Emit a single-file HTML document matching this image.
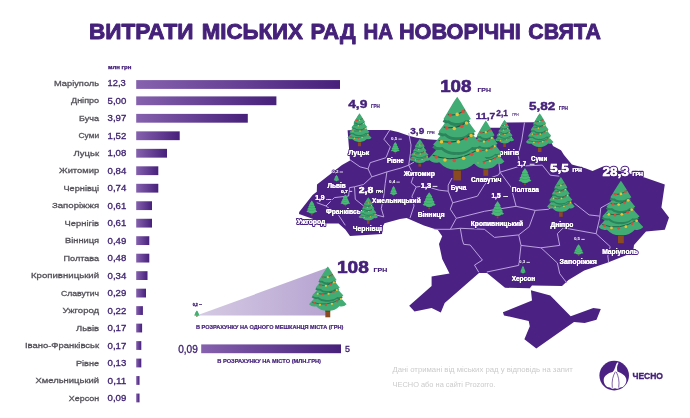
<!DOCTYPE html>
<html lang="uk"><head><meta charset="utf-8"><title>Витрати міських рад на новорічні свята</title>
<style>
html,body{margin:0;padding:0;background:#fff;}
body{width:690px;height:418px;overflow:hidden;font-family:"Liberation Sans",sans-serif;}
svg{display:block;will-change:transform;font-family:"Liberation Sans",sans-serif;}
.lab{font-size:7.9px;fill:#55525a;stroke:#55525a;stroke-width:0.3px;text-anchor:end;}
.val{font-size:8.7px;fill:#3f2270;stroke:#3f2270;stroke-width:0.3px;}
.city{font-size:6.6px;font-weight:bold;fill:#fff;stroke:#4b2283;stroke-width:2.2px;stroke-linejoin:round;paint-order:stroke;text-anchor:middle;}
.num{font-weight:bold;fill:#45217a;stroke:#45217a;stroke-width:0.35px;}
.numw{font-weight:bold;fill:#fff;stroke:#4b2283;stroke-width:2.4px;stroke-linejoin:round;paint-order:stroke;}
.city2{font-size:6.6px;font-weight:bold;fill:#fff;stroke:#fff;stroke-width:0.08px;text-anchor:middle;}
.cap{font-size:5.3px;font-weight:bold;fill:#45217a;stroke:#45217a;stroke-width:0.2px;}
</style></head><body>
<svg width="690" height="418" viewBox="0 0 690 418">
<defs>
<linearGradient id="g2" x1="0" y1="0" x2="1" y2="0"><stop offset="0" stop-color="#d5cbe4"/><stop offset="1" stop-color="#b7a4d1"/></linearGradient>
<linearGradient id="g" x1="0" y1="0" x2="1" y2="0"><stop offset="0" stop-color="#8561ae"/><stop offset="1" stop-color="#47207b"/></linearGradient>

<symbol id="tp" viewBox="0 0 100 146" preserveAspectRatio="none" overflow="visible"><rect x="43.5" y="116" width="13" height="30" fill="#8a4a22"/><rect x="43.5" y="116" width="13" height="13" fill="#5a3216"/><path d="M50,52 C32,68.8 12,95.68 0,108 Q8,117.5 19,114.08 Q32,128.5 50,127 Q68,128.5 81,114.08 Q92,117.5 100,108 C88,95.68 68,68.8 50,52Z" fill="#49b976"/><path d="M50,34 C35.06,48.7 18.46,72.22 8.5,83 Q15.14,89.5 24.27,87.16 Q35.06,97.5 50,96 Q64.94,97.5 75.73,87.16 Q84.86,89.5 91.5,83 C81.54,72.22 64.94,48.7 50,34Z" fill="#38a066" transform="translate(-1.5,5)"/><path d="M50,34 C35.06,48.7 18.46,72.22 8.5,83 Q15.14,89.5 24.27,87.16 Q35.06,97.5 50,96 Q64.94,97.5 75.73,87.16 Q84.86,89.5 91.5,83 C81.54,72.22 64.94,48.7 50,34Z" fill="#49b976"/><path d="M50,17 C38.48,29.9 25.68,50.54 18,60 Q23.12,65 30.16,63.2 Q38.48,71.5 50,70 Q61.52,71.5 69.84,63.2 Q76.88,65 82,60 C74.32,50.54 61.52,29.9 50,17Z" fill="#38a066" transform="translate(-1.5,5)"/><path d="M50,17 C38.48,29.9 25.68,50.54 18,60 Q23.12,65 30.16,63.2 Q38.48,71.5 50,70 Q61.52,71.5 69.84,63.2 Q76.88,65 82,60 C74.32,50.54 61.52,29.9 50,17Z" fill="#49b976"/><path d="M50,-1 C41.54,10.7 32.14,29.42 26.5,38 Q30.26,41.5 35.43,40.24 Q41.54,46.5 50,45 Q58.46,46.5 64.57,40.24 Q69.74,41.5 73.5,38 C67.86,29.42 58.46,10.7 50,-1Z" fill="#38a066" transform="translate(-1.5,5)"/><path d="M50,-1 C41.54,10.7 32.14,29.42 26.5,38 Q30.26,41.5 35.43,40.24 Q41.54,46.5 50,45 Q58.46,46.5 64.57,40.24 Q69.74,41.5 73.5,38 C67.86,29.42 58.46,10.7 50,-1Z" fill="#49b976"/></symbol>
<symbol id="td" viewBox="0 0 100 146" preserveAspectRatio="none" overflow="visible"><rect x="43.5" y="116" width="13" height="30" fill="#8a4a22"/><rect x="43.5" y="116" width="13" height="13" fill="#5a3216"/><path d="M50,52 C32,68.8 12,95.68 0,108 Q8,117.5 19,114.08 Q32,128.5 50,127 Q68,128.5 81,114.08 Q92,117.5 100,108 C88,95.68 68,68.8 50,52Z" fill="#41ad75"/><path d="M50,34 C35.06,48.7 18.46,72.22 8.5,83 Q15.14,89.5 24.27,87.16 Q35.06,97.5 50,96 Q64.94,97.5 75.73,87.16 Q84.86,89.5 91.5,83 C81.54,72.22 64.94,48.7 50,34Z" fill="#2b845b" transform="translate(-1.5,5)"/><path d="M50,34 C35.06,48.7 18.46,72.22 8.5,83 Q15.14,89.5 24.27,87.16 Q35.06,97.5 50,96 Q64.94,97.5 75.73,87.16 Q84.86,89.5 91.5,83 C81.54,72.22 64.94,48.7 50,34Z" fill="#41ad75"/><path d="M50,17 C38.48,29.9 25.68,50.54 18,60 Q23.12,65 30.16,63.2 Q38.48,71.5 50,70 Q61.52,71.5 69.84,63.2 Q76.88,65 82,60 C74.32,50.54 61.52,29.9 50,17Z" fill="#2b845b" transform="translate(-1.5,5)"/><path d="M50,17 C38.48,29.9 25.68,50.54 18,60 Q23.12,65 30.16,63.2 Q38.48,71.5 50,70 Q61.52,71.5 69.84,63.2 Q76.88,65 82,60 C74.32,50.54 61.52,29.9 50,17Z" fill="#41ad75"/><path d="M50,-1 C41.54,10.7 32.14,29.42 26.5,38 Q30.26,41.5 35.43,40.24 Q41.54,46.5 50,45 Q58.46,46.5 64.57,40.24 Q69.74,41.5 73.5,38 C67.86,29.42 58.46,10.7 50,-1Z" fill="#2b845b" transform="translate(-1.5,5)"/><path d="M50,-1 C41.54,10.7 32.14,29.42 26.5,38 Q30.26,41.5 35.43,40.24 Q41.54,46.5 50,45 Q58.46,46.5 64.57,40.24 Q69.74,41.5 73.5,38 C67.86,29.42 58.46,10.7 50,-1Z" fill="#41ad75"/><path d="M34,30 Q48,34 63,22" fill="none" stroke="#1a5840" stroke-width="1.9"/><circle cx="38" cy="31" r="3.1" fill="#df4b3c"/><circle cx="50" cy="30" r="3.1" fill="#efc034"/><circle cx="60" cy="25" r="3.1" fill="#df4b3c"/><path d="M27,52 Q48,58 68,42" fill="none" stroke="#1a5840" stroke-width="1.9"/><circle cx="32" cy="54" r="3.1" fill="#df4b3c"/><circle cx="45" cy="55" r="3.1" fill="#efc034"/><circle cx="58" cy="51" r="3.1" fill="#df4b3c"/><circle cx="66" cy="45" r="3.1" fill="#efc034"/><path d="M18,76 Q46,85 76,65" fill="none" stroke="#1a5840" stroke-width="1.9"/><circle cx="23" cy="78" r="3.1" fill="#efc034"/><circle cx="37" cy="80" r="3.1" fill="#df4b3c"/><circle cx="52" cy="78" r="3.1" fill="#efc034"/><circle cx="65" cy="73" r="3.1" fill="#df4b3c"/><circle cx="74" cy="67" r="3.1" fill="#efc034"/><path d="M8,102 Q46,118 87,91" fill="none" stroke="#1a5840" stroke-width="1.9"/><circle cx="14" cy="105" r="3.1" fill="#df4b3c"/><circle cx="29" cy="110" r="3.1" fill="#efc034"/><circle cx="45" cy="111" r="3.1" fill="#df4b3c"/><circle cx="61" cy="107" r="3.1" fill="#efc034"/><circle cx="75" cy="100" r="3.1" fill="#df4b3c"/><circle cx="85" cy="93" r="3.1" fill="#efc034"/></symbol>
</defs>
<text x="89.0" y="38.7" font-size="22" font-weight="bold" fill="#45217a" stroke="#45217a" stroke-width="0.9" stroke-linejoin="round" textLength="104.5" lengthAdjust="spacingAndGlyphs">ВИТРАТИ</text>
<text x="201.7" y="38.7" font-size="22" font-weight="bold" fill="#45217a" stroke="#45217a" stroke-width="0.9" stroke-linejoin="round" textLength="101.3" lengthAdjust="spacingAndGlyphs">МІСЬКИХ</text>
<text x="310.6" y="38.7" font-size="22" font-weight="bold" fill="#45217a" stroke="#45217a" stroke-width="0.9" stroke-linejoin="round" textLength="45.0" lengthAdjust="spacingAndGlyphs">РАД</text>
<text x="363.4" y="38.7" font-size="22" font-weight="bold" fill="#45217a" stroke="#45217a" stroke-width="0.9" stroke-linejoin="round" textLength="29.5" lengthAdjust="spacingAndGlyphs">НА</text>
<text x="398.9" y="38.7" font-size="22" font-weight="bold" fill="#45217a" stroke="#45217a" stroke-width="0.9" stroke-linejoin="round" textLength="122.0" lengthAdjust="spacingAndGlyphs">НОВОРІЧНІ</text>
<text x="528.3" y="38.7" font-size="22" font-weight="bold" fill="#45217a" stroke="#45217a" stroke-width="0.9" stroke-linejoin="round" textLength="72.6" lengthAdjust="spacingAndGlyphs">СВЯТА</text>
<text x="108" y="69.3" font-size="4.6" font-weight="bold" fill="#45217a" stroke="#45217a" stroke-width="0.25" textLength="23.4" lengthAdjust="spacingAndGlyphs">млн грн</text>
<text class="lab" x="99.1" y="85.95" textLength="45.1" lengthAdjust="spacingAndGlyphs">Маріуполь</text>
<text class="val" x="107.6" y="86.45" textLength="18.2" lengthAdjust="spacingAndGlyphs">12,3</text>
<rect x="136.2" y="80.10" width="203.8" height="8.8" fill="url(#g)"/>
<text class="lab" x="99.1" y="103.44" textLength="28.1" lengthAdjust="spacingAndGlyphs">Дніпро</text>
<text class="val" x="107.6" y="103.93" textLength="18.7" lengthAdjust="spacingAndGlyphs">5,00</text>
<rect x="136.2" y="96.40" width="140.2" height="8.8" fill="url(#g)"/>
<text class="lab" x="99.1" y="120.92" textLength="20.1" lengthAdjust="spacingAndGlyphs">Буча</text>
<text class="val" x="107.6" y="121.41" textLength="18.7" lengthAdjust="spacingAndGlyphs">3,97</text>
<rect x="136.2" y="113.88" width="111.6" height="8.8" fill="url(#g)"/>
<text class="lab" x="99.1" y="138.41" textLength="20.6" lengthAdjust="spacingAndGlyphs">Суми</text>
<text class="val" x="107.6" y="138.89" textLength="18.7" lengthAdjust="spacingAndGlyphs">1,52</text>
<rect x="136.2" y="131.36" width="43.5" height="8.8" fill="url(#g)"/>
<text class="lab" x="99.1" y="155.89" textLength="25.6" lengthAdjust="spacingAndGlyphs">Луцьк</text>
<text class="val" x="107.6" y="156.37" textLength="18.7" lengthAdjust="spacingAndGlyphs">1,08</text>
<rect x="136.2" y="148.84" width="30.8" height="8.8" fill="url(#g)"/>
<text class="lab" x="99.1" y="173.38" textLength="40.1" lengthAdjust="spacingAndGlyphs">Житомир</text>
<text class="val" x="107.6" y="173.85" textLength="18.7" lengthAdjust="spacingAndGlyphs">0,84</text>
<rect x="136.2" y="166.32" width="22.1" height="8.8" fill="url(#g)"/>
<text class="lab" x="99.1" y="190.87" textLength="35.6" lengthAdjust="spacingAndGlyphs">Чернівці</text>
<text class="val" x="107.6" y="191.33" textLength="18.7" lengthAdjust="spacingAndGlyphs">0,74</text>
<rect x="136.2" y="183.80" width="22.1" height="8.8" fill="url(#g)"/>
<text class="lab" x="99.1" y="208.35" textLength="47.1" lengthAdjust="spacingAndGlyphs">Запоріжжя</text>
<text class="val" x="107.6" y="208.81" textLength="18.7" lengthAdjust="spacingAndGlyphs">0,61</text>
<rect x="136.2" y="201.28" width="15.8" height="8.8" fill="url(#g)"/>
<text class="lab" x="99.1" y="225.84" textLength="34.5" lengthAdjust="spacingAndGlyphs">Чернігів</text>
<text class="val" x="107.6" y="226.29" textLength="18.7" lengthAdjust="spacingAndGlyphs">0,61</text>
<rect x="136.2" y="218.76" width="15.8" height="8.8" fill="url(#g)"/>
<text class="lab" x="99.1" y="243.32" textLength="34.1" lengthAdjust="spacingAndGlyphs">Вінниця</text>
<text class="val" x="107.6" y="243.77" textLength="18.7" lengthAdjust="spacingAndGlyphs">0,49</text>
<rect x="136.2" y="236.24" width="13.1" height="8.8" fill="url(#g)"/>
<text class="lab" x="99.1" y="260.81" textLength="35.6" lengthAdjust="spacingAndGlyphs">Полтава</text>
<text class="val" x="107.6" y="261.25" textLength="18.7" lengthAdjust="spacingAndGlyphs">0,48</text>
<rect x="136.2" y="253.72" width="13.1" height="8.8" fill="url(#g)"/>
<text class="lab" x="99.1" y="278.30" textLength="68.1" lengthAdjust="spacingAndGlyphs">Кропивницький</text>
<text class="val" x="107.6" y="278.73" textLength="18.7" lengthAdjust="spacingAndGlyphs">0,34</text>
<rect x="136.2" y="271.20" width="11.3" height="8.8" fill="url(#g)"/>
<text class="lab" x="99.1" y="295.78" textLength="38.1" lengthAdjust="spacingAndGlyphs">Славутич</text>
<text class="val" x="107.6" y="296.21" textLength="18.7" lengthAdjust="spacingAndGlyphs">0,29</text>
<rect x="136.2" y="288.68" width="9.8" height="8.8" fill="url(#g)"/>
<text class="lab" x="99.1" y="313.27" textLength="36.6" lengthAdjust="spacingAndGlyphs">Ужгород</text>
<text class="val" x="107.6" y="313.69" textLength="18.7" lengthAdjust="spacingAndGlyphs">0,22</text>
<rect x="136.2" y="306.16" width="6.7" height="8.8" fill="url(#g)"/>
<text class="lab" x="99.1" y="330.75" textLength="23.1" lengthAdjust="spacingAndGlyphs">Львів</text>
<text class="val" x="107.6" y="331.17" textLength="18.7" lengthAdjust="spacingAndGlyphs">0,17</text>
<rect x="136.2" y="323.64" width="5.9" height="8.8" fill="url(#g)"/>
<text class="lab" x="99.1" y="348.24" textLength="74.1" lengthAdjust="spacingAndGlyphs">Івано-Франківськ</text>
<text class="val" x="107.6" y="348.65" textLength="18.7" lengthAdjust="spacingAndGlyphs">0,17</text>
<rect x="136.2" y="341.12" width="5.1" height="8.8" fill="url(#g)"/>
<text class="lab" x="99.1" y="365.73" textLength="23.1" lengthAdjust="spacingAndGlyphs">Рівне</text>
<text class="val" x="107.6" y="366.13" textLength="18.7" lengthAdjust="spacingAndGlyphs">0,13</text>
<rect x="136.2" y="358.60" width="5.1" height="8.8" fill="url(#g)"/>
<text class="lab" x="99.1" y="383.21" textLength="63.7" lengthAdjust="spacingAndGlyphs">Хмельницький</text>
<text class="val" x="107.6" y="383.61" textLength="18.7" lengthAdjust="spacingAndGlyphs">0,11</text>
<rect x="136.2" y="376.08" width="3.3" height="8.8" fill="url(#g)"/>
<text class="lab" x="99.1" y="400.70" textLength="30.3" lengthAdjust="spacingAndGlyphs">Херсон</text>
<text class="val" x="107.6" y="401.09" textLength="18.7" lengthAdjust="spacingAndGlyphs">0,09</text>
<rect x="136.2" y="393.56" width="3.3" height="8.8" fill="url(#g)"/>
<polygon points="347.6,130.2 367.5,129.9 389.3,129.9 398.0,132.0 409.6,136.1 416.8,137.8 427.0,139.3 438.0,140.0 460.0,141.0 478.0,137.0 490.0,127.8 500.0,127.8 506.0,122.5 535.0,122.3 545.0,128.0 553.0,146.0 561.0,150.2 564.0,155.0 571.9,164.6 585.3,168.3 592.6,171.0 603.0,166.5 644.7,177.4 664.8,184.5 661.4,207.5 669.0,217.6 664.8,229.7 646.0,231.4 634.0,244.9 633.0,252.5 607.9,262.4 584.2,270.6 568.5,280.0 562.0,286.0 532.0,285.4 529.8,288.2 505.0,287.8 487.0,273.0 479.0,273.0 444.7,303.0 440.8,312.4 431.6,308.0 414.5,311.6 409.2,305.8 431.6,286.0 431.6,276.6 449.5,273.5 442.2,259.0 439.0,243.9 442.2,236.3 437.9,229.9 423.9,225.6 406.6,218.0 400.0,219.0 384.5,223.2 383.0,226.0 382.0,234.0 350.0,236.0 345.3,229.5 338.6,223.6 326.0,223.6 299.0,214.0 299.2,211.9 312.6,195.1 316.8,191.8 317.0,184.5 342.0,165.0 350.0,160.5 348.5,142.0" fill="#4b2283"/>
<polygon points="530.9,290.3 550.3,295.5 570.7,316.2 593.3,308.0 600.8,309.0 596.5,319.8 584.7,323.0 574.0,322.0 536.3,348.4 524.4,339.2 529.8,326.3 528.7,320.9 504.0,315.5 502.9,312.3 532.0,300.4" fill="#4b2283"/>
<polyline points="389.7,130.0 383.9,139.2 390.3,146.8 386.0,157.7 370.2,162.7 368.1,168.9" fill="none" stroke="#c2a9e4" stroke-width="0.95" stroke-linejoin="round"/>
<polyline points="350.0,159.8 360.1,166.9 368.1,168.9 371.8,176.9 363.5,184.5 354.5,186.8 349.5,187.6 348.6,196.0 334.4,197.6 326.0,206.0 316.8,202.7" fill="none" stroke="#c2a9e4" stroke-width="0.95" stroke-linejoin="round"/>
<polyline points="326.0,206.0 338.6,215.2 345.3,225.3" fill="none" stroke="#c2a9e4" stroke-width="0.95" stroke-linejoin="round"/>
<polyline points="354.5,186.8 355.3,199.3 363.7,206.0 377.1,215.2 383.8,216.9" fill="none" stroke="#c2a9e4" stroke-width="0.95" stroke-linejoin="round"/>
<polyline points="371.8,176.9 386.9,171.9 401.0,168.0 408.7,165.2 414.0,162.0" fill="none" stroke="#c2a9e4" stroke-width="0.95" stroke-linejoin="round"/>
<polyline points="408.7,133.0 411.0,145.0 410.4,153.5 408.7,165.2 413.7,175.3 411.2,182.8 416.2,187.0 412.0,196.2 414.0,206.0 410.0,218.0" fill="none" stroke="#c2a9e4" stroke-width="0.95" stroke-linejoin="round"/>
<polyline points="386.9,171.9 385.2,183.6 383.9,195.0 381.3,208.5 383.8,216.9" fill="none" stroke="#c2a9e4" stroke-width="0.95" stroke-linejoin="round"/>
<polyline points="416.2,187.0 424.0,186.0 439.2,190.2 448.2,191.2 448.2,185.1 452.0,178.0" fill="none" stroke="#c2a9e4" stroke-width="0.95" stroke-linejoin="round"/>
<polyline points="448.2,191.2 452.7,202.8 450.3,209.2 456.3,218.3 450.3,229.3" fill="none" stroke="#c2a9e4" stroke-width="0.95" stroke-linejoin="round"/>
<polyline points="452.7,202.8 477.4,196.2 484.4,185.1 490.0,178.0 498.5,175.0 500.0,172.2" fill="none" stroke="#c2a9e4" stroke-width="0.95" stroke-linejoin="round"/>
<polyline points="456.3,218.3 484.4,211.3 516.1,206.3" fill="none" stroke="#c2a9e4" stroke-width="0.95" stroke-linejoin="round"/>
<polyline points="499.0,164.0 500.0,172.2 511.1,187.2 516.1,206.3 535.2,210.4 548.3,209.3 556.0,204.0" fill="none" stroke="#c2a9e4" stroke-width="0.95" stroke-linejoin="round"/>
<polyline points="524.5,122.5 521.8,140.0 518.1,155.0 520.2,166.1" fill="none" stroke="#c2a9e4" stroke-width="0.95" stroke-linejoin="round"/>
<polyline points="500.0,172.2 520.2,166.1 542.3,165.1 550.3,175.2 559.3,176.2" fill="none" stroke="#c2a9e4" stroke-width="0.95" stroke-linejoin="round"/>
<polyline points="434.2,229.3 450.3,229.3 460.3,228.3 484.4,229.3 494.5,237.4 518.7,234.9" fill="none" stroke="#c2a9e4" stroke-width="0.95" stroke-linejoin="round"/>
<polyline points="460.3,228.3 462.3,240.0 463.7,244.3 470.2,245.0 482.4,260.1 474.5,265.1 478.8,272.3" fill="none" stroke="#c2a9e4" stroke-width="0.95" stroke-linejoin="round"/>
<polyline points="535.2,210.4 529.2,226.7 518.7,234.9 521.0,245.4 541.0,247.8 559.7,245.4 557.4,233.7 563.3,227.8 596.1,233.7 599.6,218.5 600.8,207.9 620.0,197.3" fill="none" stroke="#c2a9e4" stroke-width="0.95" stroke-linejoin="round"/>
<polyline points="574.4,203.3 589.1,214.9 599.6,216.1" fill="none" stroke="#c2a9e4" stroke-width="0.95" stroke-linejoin="round"/>
<polyline points="596.1,233.7 610.2,246.6 607.8,256.0 608.6,262.0" fill="none" stroke="#c2a9e4" stroke-width="0.95" stroke-linejoin="round"/>
<polyline points="541.0,247.8 557.4,263.0 559.7,273.6 566.8,283.0" fill="none" stroke="#c2a9e4" stroke-width="0.95" stroke-linejoin="round"/>
<polyline points="521.0,245.4 518.7,265.4 486.8,272.0" fill="none" stroke="#c2a9e4" stroke-width="0.95" stroke-linejoin="round"/>
<text class="city" x="504.6" y="154.6" textLength="29.2" lengthAdjust="spacingAndGlyphs">Чернігів</text>
<text class="city2" x="504.6" y="154.6" textLength="29.2" lengthAdjust="spacingAndGlyphs">Чернігів</text>
<text class="city" x="358.9" y="155.3" textLength="20.9" lengthAdjust="spacingAndGlyphs">Луцьк</text>
<text class="city2" x="358.9" y="155.3" textLength="20.9" lengthAdjust="spacingAndGlyphs">Луцьк</text>
<text class="city" x="395.3" y="163.3" textLength="16.8" lengthAdjust="spacingAndGlyphs">Рівне</text>
<text class="city2" x="395.3" y="163.3" textLength="16.8" lengthAdjust="spacingAndGlyphs">Рівне</text>
<text class="city" x="419.4" y="175.6" textLength="31.2" lengthAdjust="spacingAndGlyphs">Житомир</text>
<text class="city2" x="419.4" y="175.6" textLength="31.2" lengthAdjust="spacingAndGlyphs">Житомир</text>
<text class="city" x="458.5" y="190.2" textLength="15.6" lengthAdjust="spacingAndGlyphs">Буча</text>
<text class="city2" x="458.5" y="190.2" textLength="15.6" lengthAdjust="spacingAndGlyphs">Буча</text>
<text class="city" x="486.2" y="182.0" textLength="30.5" lengthAdjust="spacingAndGlyphs">Славутич</text>
<text class="city2" x="486.2" y="182.0" textLength="30.5" lengthAdjust="spacingAndGlyphs">Славутич</text>
<text class="city" x="539.1" y="160.6" textLength="16.4" lengthAdjust="spacingAndGlyphs">Суми</text>
<text class="city2" x="539.1" y="160.6" textLength="16.4" lengthAdjust="spacingAndGlyphs">Суми</text>
<text class="city" x="525.4" y="191.9" textLength="27.2" lengthAdjust="spacingAndGlyphs">Полтава</text>
<text class="city2" x="525.4" y="191.9" textLength="27.2" lengthAdjust="spacingAndGlyphs">Полтава</text>
<text class="city" x="336.6" y="188.0" textLength="18.2" lengthAdjust="spacingAndGlyphs">Львів</text>
<text class="city2" x="336.6" y="188.0" textLength="18.2" lengthAdjust="spacingAndGlyphs">Львів</text>
<text class="city" x="396.4" y="203.3" textLength="48.6" lengthAdjust="spacingAndGlyphs">Хмельницький</text>
<text class="city2" x="396.4" y="203.3" textLength="48.6" lengthAdjust="spacingAndGlyphs">Хмельницький</text>
<text class="city" x="431.1" y="216.9" textLength="26.9" lengthAdjust="spacingAndGlyphs">Вінниця</text>
<text class="city2" x="431.1" y="216.9" textLength="26.9" lengthAdjust="spacingAndGlyphs">Вінниця</text>
<text class="city" x="345.1" y="214.3" textLength="38.2" lengthAdjust="spacingAndGlyphs">Франківськ</text>
<text class="city2" x="345.1" y="214.3" textLength="38.2" lengthAdjust="spacingAndGlyphs">Франківськ</text>
<text class="city" x="311.2" y="223.9" textLength="28.5" lengthAdjust="spacingAndGlyphs">Ужгород</text>
<text class="city2" x="311.2" y="223.9" textLength="28.5" lengthAdjust="spacingAndGlyphs">Ужгород</text>
<text class="city" x="367.3" y="231.1" textLength="29.0" lengthAdjust="spacingAndGlyphs">Чернівці</text>
<text class="city2" x="367.3" y="231.1" textLength="29.0" lengthAdjust="spacingAndGlyphs">Чернівці</text>
<text class="city" x="496.9" y="226.0" textLength="52.2" lengthAdjust="spacingAndGlyphs">Кропивницький</text>
<text class="city2" x="496.9" y="226.0" textLength="52.2" lengthAdjust="spacingAndGlyphs">Кропивницький</text>
<text class="city" x="561.9" y="226.9" textLength="23.0" lengthAdjust="spacingAndGlyphs">Дніпро</text>
<text class="city2" x="561.9" y="226.9" textLength="23.0" lengthAdjust="spacingAndGlyphs">Дніпро</text>
<text class="city" x="578.2" y="264.4" textLength="37.3" lengthAdjust="spacingAndGlyphs">Запоріжжя</text>
<text class="city2" x="578.2" y="264.4" textLength="37.3" lengthAdjust="spacingAndGlyphs">Запоріжжя</text>
<text class="city" x="620.0" y="254.0" textLength="35.7" lengthAdjust="spacingAndGlyphs">Маріуполь</text>
<text class="city2" x="620.0" y="254.0" textLength="35.7" lengthAdjust="spacingAndGlyphs">Маріуполь</text>
<text class="city" x="523.4" y="281.3" textLength="23.4" lengthAdjust="spacingAndGlyphs">Херсон</text>
<text class="city2" x="523.4" y="281.3" textLength="23.4" lengthAdjust="spacingAndGlyphs">Херсон</text>
<use href="#td" x="347.41" y="113.50" width="24.17" height="32.70" preserveAspectRatio="none"/>
<use href="#tp" x="390.91" y="142.20" width="8.77" height="11.40" preserveAspectRatio="none"/>
<use href="#td" x="409.35" y="139.30" width="20.91" height="27.30" preserveAspectRatio="none"/>
<use href="#td" x="495.06" y="120.00" width="19.07" height="27.00" preserveAspectRatio="none"/>
<use href="#td" x="525.93" y="113.60" width="27.54" height="38.40" preserveAspectRatio="none"/>
<use href="#tp" x="518.57" y="168.20" width="12.85" height="17.00" preserveAspectRatio="none"/>
<use href="#td" x="547.13" y="177.30" width="27.54" height="39.50" preserveAspectRatio="none"/>
<use href="#td" x="598.46" y="181.20" width="44.88" height="62.00" preserveAspectRatio="none"/>
<use href="#tp" x="491.17" y="201.20" width="12.85" height="17.10" preserveAspectRatio="none"/>
<use href="#tp" x="573.65" y="244.40" width="9.89" height="11.60" preserveAspectRatio="none"/>
<use href="#tp" x="520.14" y="266.00" width="5.71" height="8.20" preserveAspectRatio="none"/>
<use href="#tp" x="422.67" y="192.40" width="13.06" height="16.80" preserveAspectRatio="none"/>
<use href="#tp" x="389.78" y="186.00" width="7.65" height="10.20" preserveAspectRatio="none"/>
<use href="#td" x="358.61" y="197.40" width="19.38" height="26.40" preserveAspectRatio="none"/>
<use href="#tp" x="340.51" y="194.70" width="9.59" height="11.60" preserveAspectRatio="none"/>
<use href="#tp" x="306.39" y="200.60" width="10.81" height="14.90" preserveAspectRatio="none"/>
<use href="#tp" x="333.64" y="175.10" width="5.71" height="6.70" preserveAspectRatio="none"/>
<use href="#td" x="467.19" y="121.00" width="37.23" height="54.80" preserveAspectRatio="none"/>
<use href="#td" x="428.13" y="97.30" width="58.14" height="83.10" preserveAspectRatio="none"/>
<text class="num" x="440.2" y="92.4" font-size="16.8" textLength="31.3" lengthAdjust="spacingAndGlyphs" style="stroke-width:0.62px">108</text>
<text class="num" x="477.4" y="92.4" font-size="5.4" textLength="13.5" lengthAdjust="spacingAndGlyphs" style="stroke-width:0.15px">ГРН</text>
<text class="num" x="348.2" y="108.1" font-size="11.5" textLength="19.2" lengthAdjust="spacingAndGlyphs" style="stroke-width:0.43px">4,9</text>
<text class="num" x="370.9" y="108.1" font-size="5.0" textLength="9.0" lengthAdjust="spacingAndGlyphs" style="stroke-width:0.15px">ГРН</text>
<text class="num" x="410.3" y="134.2" font-size="8.7" textLength="13.9" lengthAdjust="spacingAndGlyphs" style="stroke-width:0.32px">3,9</text>
<text class="num" x="427.0" y="134.2" font-size="3.5" textLength="7.5" lengthAdjust="spacingAndGlyphs" style="stroke-width:0.15px">ГРН</text>
<text class="num" x="475.7" y="118.9" font-size="9.0" textLength="19.7" lengthAdjust="spacingAndGlyphs" style="stroke-width:0.33px">11,7</text>
<text class="num" x="496.3" y="116.1" font-size="8.2" textLength="11.5" lengthAdjust="spacingAndGlyphs" style="stroke-width:0.30px">2,1</text>
<text class="num" x="512.2" y="116.1" font-size="2.6" textLength="6.5" lengthAdjust="spacingAndGlyphs" style="stroke-width:0">ГРН</text>
<text class="num" x="528.9" y="109.8" font-size="11.6" textLength="26.3" lengthAdjust="spacingAndGlyphs" style="stroke-width:0.43px">5,82</text>
<text class="num" x="558.7" y="109.8" font-size="5.0" textLength="9.3" lengthAdjust="spacingAndGlyphs" style="stroke-width:0.15px">ГРН</text>
<text class="numw" x="549.9" y="172.2" font-size="11.8" textLength="19.0" lengthAdjust="spacingAndGlyphs">5,5</text>
<text x="549.9" y="172.2" font-size="11.8" font-weight="bold" fill="#fff" stroke="#fff" stroke-width="0.35" textLength="19.0" lengthAdjust="spacingAndGlyphs">5,5</text>
<text class="numw" x="572.4" y="172.2" font-size="4.5" textLength="9.4" lengthAdjust="spacingAndGlyphs">ГРН</text>
<text x="572.4" y="172.2" font-size="4.5" font-weight="bold" fill="#fff" stroke="#fff" stroke-width="0.14" textLength="9.4" lengthAdjust="spacingAndGlyphs">ГРН</text>
<text class="numw" x="602.5" y="175.7" font-size="12.2" textLength="26.2" lengthAdjust="spacingAndGlyphs">28,3</text>
<text x="602.5" y="175.7" font-size="12.2" font-weight="bold" fill="#fff" stroke="#fff" stroke-width="0.37" textLength="26.2" lengthAdjust="spacingAndGlyphs">28,3</text>
<text class="numw" x="632.5" y="175.7" font-size="4.9" textLength="10.4" lengthAdjust="spacingAndGlyphs">ГРН</text>
<text x="632.5" y="175.7" font-size="4.9" font-weight="bold" fill="#fff" stroke="#fff" stroke-width="0.15" textLength="10.4" lengthAdjust="spacingAndGlyphs">ГРН</text>
<text class="numw" x="358.7" y="193.3" font-size="9.6" textLength="14.7" lengthAdjust="spacingAndGlyphs">2,8</text>
<text x="358.7" y="193.3" font-size="9.6" font-weight="bold" fill="#fff" stroke="#fff" stroke-width="0.29" textLength="14.7" lengthAdjust="spacingAndGlyphs">2,8</text>
<text class="numw" x="376.0" y="193.3" font-size="3.5" textLength="6.6" lengthAdjust="spacingAndGlyphs">ГРН</text>
<text x="376.0" y="193.3" font-size="3.5" font-weight="bold" fill="#fff" stroke="#fff" stroke-width="0.10" textLength="6.6" lengthAdjust="spacingAndGlyphs">ГРН</text>
<text class="numw" x="315.2" y="199.8" font-size="6.5" textLength="9.4" lengthAdjust="spacingAndGlyphs">1,9</text>
<text x="315.2" y="199.8" font-size="6.5" font-weight="bold" fill="#fff" stroke="#fff" stroke-width="0.20" textLength="9.4" lengthAdjust="spacingAndGlyphs">1,9</text>
<text class="numw" x="326.5" y="199.8" font-size="2.4" textLength="4.7" lengthAdjust="spacingAndGlyphs">ГРН</text>
<text x="326.5" y="199.8" font-size="2.4" font-weight="bold" fill="#fff" stroke="#fff" stroke-width="0.07" textLength="4.7" lengthAdjust="spacingAndGlyphs">ГРН</text>
<text class="numw" x="517.6" y="166.0" font-size="7.0" textLength="8.6" lengthAdjust="spacingAndGlyphs">1,7</text>
<text x="517.6" y="166.0" font-size="7.0" font-weight="bold" fill="#fff" stroke="#fff" stroke-width="0.21" textLength="8.6" lengthAdjust="spacingAndGlyphs">1,7</text>
<text class="numw" x="491.5" y="198.0" font-size="6.6" textLength="9.0" lengthAdjust="spacingAndGlyphs">1,5</text>
<text x="491.5" y="198.0" font-size="6.6" font-weight="bold" fill="#fff" stroke="#fff" stroke-width="0.20" textLength="9.0" lengthAdjust="spacingAndGlyphs">1,5</text>
<text class="numw" x="420.7" y="188.2" font-size="7.0" textLength="10.5" lengthAdjust="spacingAndGlyphs">1,3</text>
<text x="420.7" y="188.2" font-size="7.0" font-weight="bold" fill="#fff" stroke="#fff" stroke-width="0.21" textLength="10.5" lengthAdjust="spacingAndGlyphs">1,3</text>
<text class="numw" x="341.0" y="192.5" font-size="3.6" textLength="6.8" lengthAdjust="spacingAndGlyphs">0,7</text>
<text x="341.0" y="192.5" font-size="3.6" font-weight="bold" fill="#fff" stroke="#fff" stroke-width="0.11" textLength="6.8" lengthAdjust="spacingAndGlyphs">0,7</text>
<rect x="349.3" y="190.9" width="2.9" height="0.8" fill="#fff"/>
<text class="numw" x="332.2" y="173.1" font-size="3.7" textLength="6.2" lengthAdjust="spacingAndGlyphs" style="stroke-width:1.2px">0,2</text>
<rect x="339.6" y="171.6" width="3.4" height="0.8" fill="#fff"/>
<text class="numw" x="391.0" y="140.2" font-size="3.7" textLength="6.2" lengthAdjust="spacingAndGlyphs" style="stroke-width:1.2px">0,5</text>
<rect x="398.4" y="138.7" width="3.4" height="0.8" fill="#fff"/>
<text class="numw" x="389.0" y="183.2" font-size="3.7" textLength="6.2" lengthAdjust="spacingAndGlyphs" style="stroke-width:1.2px">0,4</text>
<rect x="396.4" y="181.7" width="3.4" height="0.8" fill="#fff"/>
<text class="numw" x="573.9" y="240.4" font-size="3.7" textLength="6.2" lengthAdjust="spacingAndGlyphs" style="stroke-width:1.2px">0,5</text>
<rect x="581.3" y="238.9" width="3.4" height="0.8" fill="#fff"/>
<text class="numw" x="519.1" y="263.4" font-size="3.7" textLength="6.2" lengthAdjust="spacingAndGlyphs" style="stroke-width:1.2px">0,3</text>
<rect x="526.5" y="261.9" width="3.4" height="0.8" fill="#fff"/>
<rect x="529.7" y="163.8" width="4.8" height="0.9" fill="#fff"/>
<rect x="503.2" y="196.0" width="4.8" height="0.9" fill="#fff"/>
<rect x="432.6" y="185.9" width="4.8" height="0.9" fill="#fff"/>
<polygon points="196.6,315.6 327.3,267.8 327.3,315.6" fill="url(#g2)"/>
<use href="#tp" x="194.10" y="310.60" width="5.60" height="6.40" preserveAspectRatio="none"/>
<use href="#td" x="309.00" y="266.80" width="37.60" height="50.50" preserveAspectRatio="none"/>
<text class="num" x="192.8" y="305.6" font-size="3.6">0,2</text><rect x="199" y="304" width="3" height="0.8" fill="#45217a"/>
<text class="num" x="336.9" y="272.5" font-size="16.8" textLength="31.9" lengthAdjust="spacingAndGlyphs" style="stroke-width:0.62px">108</text>
<text class="num" x="373.6" y="272.3" font-size="5.4" textLength="13.7" lengthAdjust="spacingAndGlyphs" style="stroke-width:0.15px">ГРН</text>
<text class="cap" x="196" y="328.6" textLength="147.3" lengthAdjust="spacingAndGlyphs">В РОЗРАХУНКУ НА ОДНОГО МЕШКАНЦЯ МІСТА (ГРН)</text>
<rect x="201.2" y="344.4" width="139.8" height="8.8" fill="url(#g)"/>
<text class="val" style="font-size:10px" x="178.2" y="352.7" textLength="19.6" lengthAdjust="spacingAndGlyphs">0,09</text>
<text class="val" style="font-size:9.4px" x="345" y="352.2" textLength="5" lengthAdjust="spacingAndGlyphs">5</text>
<text class="cap" x="217.3" y="362.8" textLength="103.7" lengthAdjust="spacingAndGlyphs">В РОЗРАХУНКУ НА  МІСТО  (МЛН.ГРН)</text>
<text x="392.5" y="372" font-size="7.4" fill="#cbcbcb" textLength="180.3" lengthAdjust="spacingAndGlyphs">Дані отримані від міських рад у відповідь на запит</text>
<text x="392.5" y="386.5" font-size="7.4" fill="#cbcbcb" textLength="103" lengthAdjust="spacingAndGlyphs">ЧЕСНО або на сайті Prozorro.</text>
<circle cx="614.2" cy="375.6" r="14.8" fill="#4b2283"/>
<path d="M618.6,362.8 C616.7,366 616.9,369 617.4,371.4 C622,373 626.6,376 626.4,380.2 C626.2,384.2 623.5,387.7 620,387.4 C618.5,388.9 616.5,389.1 615,388.3 C613.5,389.1 611.5,388.9 610,387.4 C606.5,387.7 603.8,384.2 603.7,380.2 C603.6,376 608,373 612.6,372 C615.3,369.5 615,366 617.2,362.5 Z" fill="#fff"/>
<path d="M615.4,371.6 C612.8,376 611.6,381 612.3,387.8 M616.3,372 C618.3,376 619.7,381 618.7,387.6" fill="none" stroke="#4b2283" stroke-width="0.7"/>
<text class="num" x="632.4" y="378.8" font-size="9" textLength="30.6" lengthAdjust="spacingAndGlyphs">ЧЕСНО</text>
</svg></body></html>
